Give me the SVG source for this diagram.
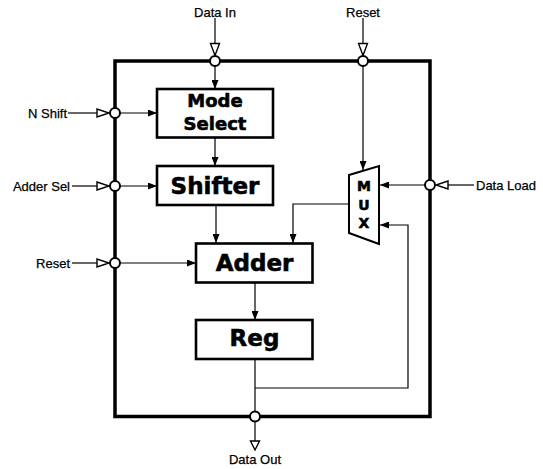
<svg xmlns="http://www.w3.org/2000/svg" width="543" height="469" viewBox="0 0 543 469">
<style>
.lbl{font-family:"Liberation Sans",Arial,sans-serif;font-size:13px;fill:#000;stroke:#000;stroke-width:0.25}
.box{fill:#fff;stroke:#000;stroke-width:2.6}
.big{font-family:"DejaVu Sans",sans-serif;font-weight:bold;fill:#000;stroke:#000;stroke-width:0.6;text-anchor:middle}
.ln{fill:none;stroke:#000;stroke-width:1.2}
.pin{fill:#fff;stroke:#000;stroke-width:2}
.tri{fill:#fff;stroke:#000;stroke-width:1.4}
</style>
<defs>
<marker id="ah" markerWidth="9" markerHeight="7" refX="9" refY="3.5" orient="auto" markerUnits="userSpaceOnUse">
<path d="M0,0 L9,3.5 L0,7 Z" fill="#000"/>
</marker>
</defs>
<rect id="chip" x="115" y="61" width="315" height="355.5" fill="none" stroke="#000" stroke-width="3.5"/>
<g id="connectors">
<line class="ln" x1="215" y1="18" x2="215" y2="44"/>
<line class="ln" x1="215" y1="66" x2="215" y2="89" marker-end="url(#ah)"/>
<line class="ln" x1="363" y1="18" x2="363" y2="44"/>
<line class="ln" x1="363" y1="66" x2="363" y2="170" marker-end="url(#ah)"/>
<line class="ln" x1="68" y1="113" x2="97" y2="113"/>
<line class="ln" x1="119" y1="113" x2="157" y2="113" marker-end="url(#ah)"/>
<line class="ln" x1="72" y1="186" x2="97" y2="186"/>
<line class="ln" x1="120" y1="186" x2="157" y2="186" marker-end="url(#ah)"/>
<line class="ln" x1="72" y1="263" x2="97" y2="263"/>
<line class="ln" x1="120" y1="263" x2="196" y2="263" marker-end="url(#ah)"/>
<line class="ln" x1="474" y1="185" x2="448" y2="185"/>
<line class="ln" x1="425" y1="185" x2="380" y2="185" marker-end="url(#ah)"/>
<line class="ln" x1="215" y1="137" x2="215" y2="166" marker-end="url(#ah)"/>
<line class="ln" x1="216" y1="205" x2="216" y2="243" marker-end="url(#ah)"/>
<polyline class="ln" points="349,204 293,204 293,243" marker-end="url(#ah)"/>
<line class="ln" x1="255" y1="282" x2="255" y2="320" marker-end="url(#ah)"/>
<line class="ln" x1="255" y1="359" x2="255" y2="412"/>
<polyline class="ln" points="255,388 408,388 408,225 380,225" marker-end="url(#ah)"/>
<line class="ln" x1="255" y1="421" x2="255" y2="441"/>
</g>
<g id="pins">
<path class="tri" d="M210.5,43.5 L219.5,43.5 L215,55.5 Z"/>
<circle class="pin" cx="215" cy="61" r="5"/>
<path class="tri" d="M358.5,43.5 L367.5,43.5 L363,55.5 Z"/>
<circle class="pin" cx="363" cy="61" r="5"/>
<path class="tri" d="M97,109 L97,117 L109,113 Z"/>
<circle class="pin" cx="115" cy="113" r="5"/>
<path class="tri" d="M97,182 L97,190 L109,186 Z"/>
<circle class="pin" cx="115" cy="186" r="5"/>
<path class="tri" d="M97,259 L97,267 L109,263 Z"/>
<circle class="pin" cx="115" cy="263" r="5"/>
<path class="tri" d="M448,181 L448,189 L436,185 Z"/>
<circle class="pin" cx="430" cy="185" r="5"/>
<circle class="pin" cx="255" cy="416.5" r="5"/>
<path class="tri" d="M250.5,441 L259.5,441 L255,450 Z"/>
</g>
<g id="labels">
<text class="lbl" x="215" y="17" text-anchor="middle">Data In</text>
<text class="lbl" x="363" y="17" text-anchor="middle">Reset</text>
<text class="lbl" x="67" y="118" text-anchor="end">N Shift</text>
<text class="lbl" x="70" y="191" text-anchor="end">Adder Sel</text>
<text class="lbl" x="70" y="268" text-anchor="end">Reset</text>
<text class="lbl" x="476" y="190">Data Load</text>
<text class="lbl" x="255" y="464" text-anchor="middle">Data Out</text>
</g>
<g id="mode-select">
<rect class="box" x="157" y="89" width="116" height="48.5"/>
<text class="big" x="215" y="107" font-size="18">Mode</text>
<text class="big" x="215" y="130" font-size="18">Select</text>
</g>
<g id="shifter">
<rect class="box" x="157" y="166" width="116" height="39"/>
<text class="big" x="215" y="193.5" font-size="23">Shifter</text>
</g>
<g id="adder">
<rect class="box" x="196" y="243.5" width="116.5" height="39"/>
<text class="big" x="254.5" y="270.5" font-size="23">Adder</text>
</g>
<g id="reg">
<rect class="box" x="196" y="320" width="116.5" height="39"/>
<text class="big" x="254.5" y="346" font-size="23">Reg</text>
</g>
<g id="mux">
<polygon points="349,175 379,166 379,244 349,233" fill="#fff" stroke="#000" stroke-width="2"/>
<text class="big" x="364" y="191" font-size="14">M</text>
<text class="big" x="364" y="210" font-size="14">U</text>
<text class="big" x="364" y="228" font-size="14">X</text>
</g>
</svg>
